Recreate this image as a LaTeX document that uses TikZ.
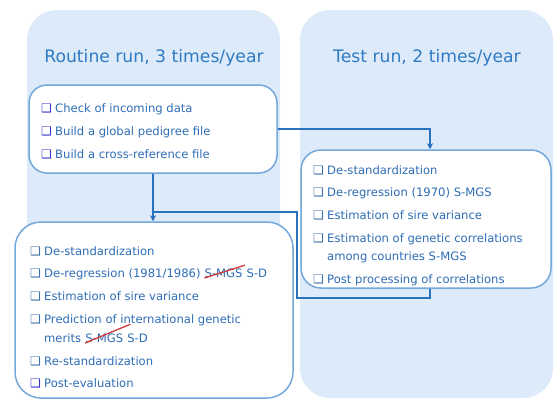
\documentclass[tikz,border=0pt]{standalone}
\usepackage{fontspec}
\setmainfont{DejaVu Sans}
\usetikzlibrary{arrows.meta}
\definecolor{panelfill}{HTML}{DDEAF9}
\definecolor{titlecol}{HTML}{2F7BC4}
\definecolor{itemcol}{HTML}{2E6DB6}
\definecolor{boxline}{HTML}{74A7DA}
\definecolor{conn}{HTML}{2A72BE}
\definecolor{bulA}{HTML}{3535C8}
\definecolor{bulB}{HTML}{3D6FA8}
\definecolor{strikecol}{HTML}{D23A3A}
\newcommand{\bulA}{\makebox[14pt][l]{\color{bulA}\fontsize{12}{12}\selectfont ❑}}
\newcommand{\bulB}{\makebox[14pt][l]{\color{bulB}\fontsize{12}{12}\selectfont ❑}}
\begin{document}
\begin{tikzpicture}[x=1pt,y=-1pt,
  panel/.style={fill=panelfill,draw=none,rounded corners=30pt},
  box/.style={draw=boxline,line width=1.5pt,fill=white,inner sep=0pt},
  ttl/.style={text=titlecol,font=\fontsize{17.2}{19}\selectfont,inner sep=0pt},
  item/.style={text=itemcol,font=\fontsize{11.6}{13}\selectfont,inner sep=0pt,anchor=base west},
  conn/.style={draw=conn,line width=1.4pt},
  arr/.style={conn,-{Stealth[length=6pt,width=6pt]}},
  strike/.style={draw=strikecol,line width=1.3pt}]
\useasboundingbox (0,0) rectangle (554,400);
% panels
\fill[panel] (27,10) rectangle (280,398);
\fill[panel] (300,10) rectangle (553,398);
\node[ttl] (t1) at (154,58) {Routine run, 3 times/year};
\node[ttl] (t2) at (427,58) {Test run, 2 times/year};
% boxes
\node[box,rounded corners=18pt,minimum width=248pt,minimum height=88pt] (b1) at (153,129) {};
\node[box,rounded corners=20pt,minimum width=250pt,minimum height=138pt] (b2) at (426,219) {};
\node[box,rounded corners=26pt,minimum width=278pt,minimum height=176pt] (b3) at (154,310) {};
% box 1 items
\node[item] (a1) at (41,112) {\bulA Check of incoming data};
\node[item] (a2) at (41,135) {\bulA Build a global pedigree file};
\node[item] (a3) at (41,158) {\bulA Build a cross-reference file};
% box 2 items
\node[item] (c1) at (313,174) {\bulB De-standardization};
\node[item] (c2) at (313,196) {\bulB De-regression (1970) S-MGS};
\node[item] (c3) at (313,219) {\bulB Estimation of sire variance};
\node[item] (c4) at (313,242) {\bulB Estimation of genetic correlations};
\node[item] (c4b) at (327,260) {among countries S-MGS};
\node[item] (c5) at (313,283) {\bulB Post processing of correlations};
% box 3 items
\node[item] (d1) at (30,255) {\bulB De-standardization};
\node[item] (d2) at (30,277) {\bulB De-regression (1981/1986)\ \null};
\node[item] (d2s) at (d2.base east) {S-MGS};
\node[item] (d2e) at (d2s.base east) {\null\ S-D};
\node[item] (d3) at (30,300) {\bulB Estimation of sire variance};
\node[item] (d4) at (30,323) {\bulB Prediction of international genetic};
\node[item] (d4b) at (44,342) {merits\ \null};
\node[item] (d4s) at (d4b.base east) {S-MGS};
\node[item] (d4e) at (d4s.base east) {\null\ S-D};
\node[item] (d5) at (30,365) {\bulB Re-standardization};
\node[item] (d6) at (30,387) {\bulA Post-evaluation};
% strike-throughs
\draw[strike] ([yshift=-1pt]d2s.base west) -- ([xshift=2pt,yshift=3pt]d2s.north east);
\draw[strike] ([yshift=-1pt]d4s.base west) -- ([xshift=7pt,yshift=9pt]d4s.north east);
% connectors
\coordinate (k1) at (297,298);
\coordinate (k2) at (153,212);
\draw[arr] (b1.east) -| ([xshift=4pt]b2.north);
\draw[arr] (b1.south) -- (b1.south |- b3.north);
\draw[conn] ([xshift=4pt]b2.south) |- (k1) |- (k2);
\end{tikzpicture}
\end{document}
